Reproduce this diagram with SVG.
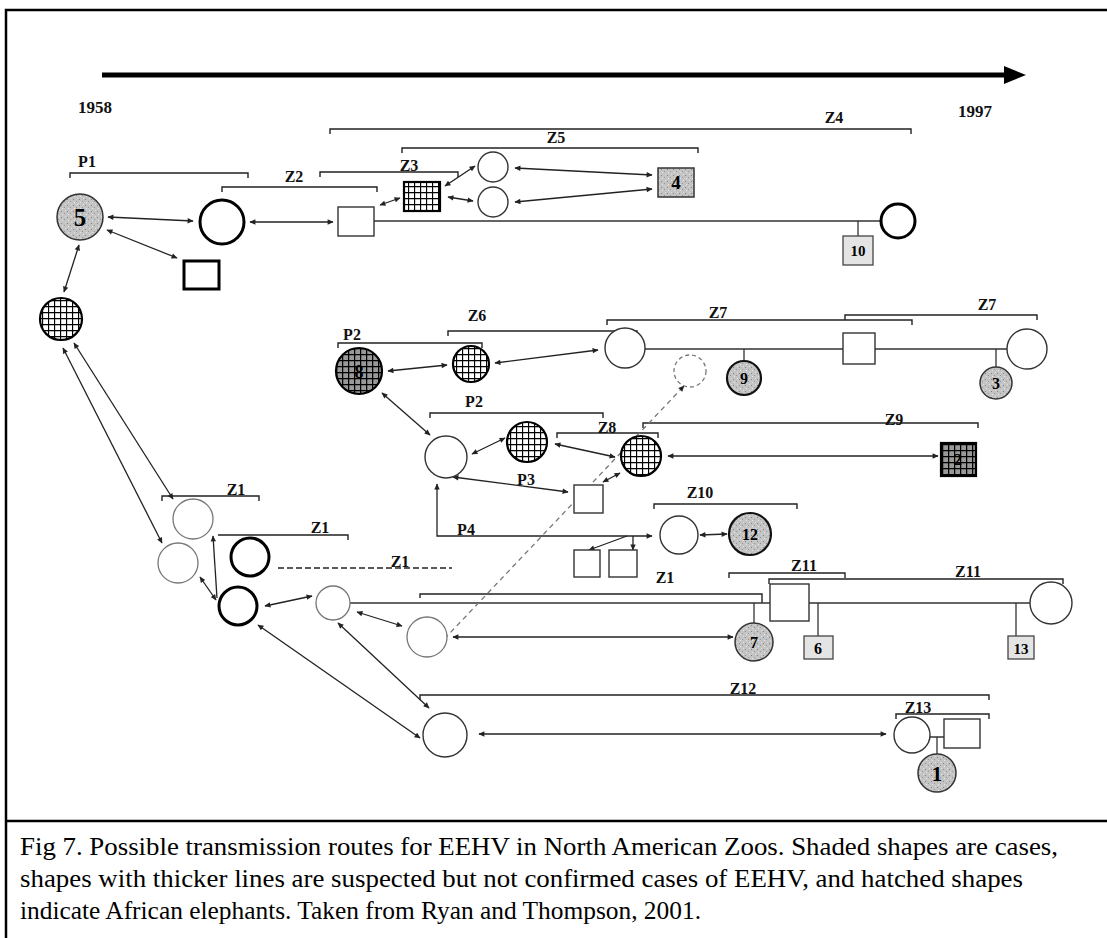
<svg xmlns="http://www.w3.org/2000/svg" width="1107" height="938" viewBox="0 0 1107 938">
<style>
.thin{fill:#fff;stroke:#333;stroke-width:1.4}
.faint{fill:#fff;stroke:#777;stroke-width:1.3}
.thick{fill:#fff;stroke:#000;stroke-width:3}
.shade{fill:url(#stip);stroke:#333;stroke-width:1.5}
.shadeT{fill:url(#stip);stroke:#111;stroke-width:2.2}
.light{fill:#e4e4e4;stroke:#444;stroke-width:1.3}
.grid{fill:url(#grid);stroke:#000;stroke-width:2.2}
.gridS{fill:url(#gridS);stroke:#000;stroke-width:2.2}
.num{font-family:"Liberation Serif",serif;font-weight:bold;fill:#000;text-anchor:middle}
.lab{font-family:"Liberation Serif",serif;font-weight:bold;font-size:16px;fill:#111;text-anchor:middle}
.yr{font-family:"Liberation Serif",serif;font-weight:bold;font-size:17px;fill:#111}
.br{fill:none;stroke:#222;stroke-width:1.4}
.ln{fill:none;stroke:#333;stroke-width:1.3}
.ar{fill:none;stroke:#222;stroke-width:1.3;marker-end:url(#ah);marker-start:url(#ah)}
.ar1{fill:none;stroke:#222;stroke-width:1.3;marker-end:url(#ah)}
.cap{font-family:"Liberation Serif",serif;font-size:25px;fill:#000}
</style>
<defs>
<marker id="ah" viewBox="0 0 10 10" refX="9" refY="5" markerWidth="7" markerHeight="6" markerUnits="userSpaceOnUse" orient="auto-start-reverse">
<path d="M0,0.5 L10,5 L0,9.5 z" fill="#222"/>
</marker>
<pattern id="stip" width="6" height="6" patternUnits="userSpaceOnUse">
<rect width="6" height="6" fill="#c4c4c4"/>
<rect x="1" y="1" width="1" height="1" fill="#858585"/>
<rect x="4" y="3" width="1" height="1" fill="#959595"/>
<rect x="2" y="4" width="1" height="1" fill="#e8e8e8"/>
<rect x="5" y="0" width="1" height="1" fill="#e0e0e0"/>
</pattern>
<pattern id="grid" width="6" height="6" patternUnits="userSpaceOnUse">
<rect width="6" height="6" fill="#fff"/>
<path d="M0 0.5H6M0.5 0V6" stroke="#000" stroke-width="1.3"/>
</pattern>
<pattern id="gridS" width="6" height="6" patternUnits="userSpaceOnUse">
<rect width="6" height="6" fill="#999"/>
<path d="M0 0.5H6M0.5 0V6" stroke="#000" stroke-width="1.5"/>
</pattern>
</defs>
<rect width="1107" height="938" fill="#fff"/>
<g id="frame" fill="none" stroke="#000" stroke-width="2.5">
<path d="M6,938 V10 H1107"/>
<path d="M6,821 H1107"/>
</g>

<g id="brackets">
<path class="br" d="M70,178 V173 H248 V178"/>
<path class="br" d="M222,192 V187 H377 V192"/>
<path class="br" d="M320,177 V172 H458 V177"/>
<path class="br" d="M330,134 V129 H911 V134"/>
<path class="br" d="M402,153 V148 H698 V153"/>
<path class="br" d="M338,348 V343 H482 V348"/>
<path class="br" d="M448,336 V331 H637 V336"/>
<path class="br" d="M607,325 V320 H912 V325"/>
<path class="br" d="M845,320 V315 H1037 V320"/>
<path class="br" d="M430,418 V413 H603 V418"/>
<path class="br" d="M557,438 V433 H658 V438"/>
<path class="br" d="M643,428 V423 H978 V428"/>
<path class="br" d="M654,509 V504 H797 V509"/>
<path class="br" d="M162,501 V496 H259 V501"/>
<path class="br" d="M218,535 H348 V540"/>
<path class="br" d="M278,568 H452" stroke="#888" stroke-dasharray="6,3"/>
<path class="br" d="M420,598 V594 H762 V603"/>
<path class="br" d="M729,578 V573 H845 V578"/>
<path class="br" d="M769,584 V579 H1063 V584"/>
<path class="br" d="M420,700 V695 H989 V700"/>
<path class="br" d="M896,719 V714 H989 V719"/>
<text class="yr" x="78" y="113">1958</text>
<text class="yr" x="958" y="117">1997</text>
<text class="lab" x="87" y="167">P1</text>
<text class="lab" x="294" y="182">Z2</text>
<text class="lab" x="409" y="171">Z3</text>
<text class="lab" x="834" y="123">Z4</text>
<text class="lab" x="556" y="143">Z5</text>
<text class="lab" x="352" y="340">P2</text>
<text class="lab" x="477" y="321">Z6</text>
<text class="lab" x="718" y="318">Z7</text>
<text class="lab" x="987" y="310">Z7</text>
<text class="lab" x="474" y="407">P2</text>
<text class="lab" x="607" y="433">Z8</text>
<text class="lab" x="894" y="425">Z9</text>
<text class="lab" x="526" y="485">P3</text>
<text class="lab" x="700" y="498">Z10</text>
<text class="lab" x="466" y="535">P4</text>
<text class="lab" x="236" y="495">Z1</text>
<text class="lab" x="320" y="533">Z1</text>
<text class="lab" x="400" y="567">Z1</text>
<text class="lab" x="665" y="583">Z1</text>
<text class="lab" x="804" y="571">Z11</text>
<text class="lab" x="968" y="577">Z11</text>
<text class="lab" x="743" y="694">Z12</text>
<text class="lab" x="918" y="713">Z13</text>
</g>

<g id="connectors">
<line x1="102" y1="75" x2="1008" y2="75" stroke="#000" stroke-width="5"/>
<polygon points="1004,66 1026,75 1004,84" fill="#000"/>
<path class="ln" d="M374,221 H881 M858,221 V236"/>
<path class="ln" d="M645,349 H843 M875,349 H1007 M744,349 V361 M996,349 V367"/>
<path class="ln" d="M350,603 H770 M809,603 H1030 M754,603 V623 M818,603 V636 M1016,603 V636"/>
<path class="ln" d="M930,737 H944 M937,737 V754"/>
<line class="ar" x1="108" y1="217" x2="193" y2="221"/>
<line class="ar" x1="250" y1="222" x2="333" y2="222"/>
<line class="ar" x1="107" y1="230" x2="177" y2="258"/>
<line class="ar" x1="79" y1="245" x2="64" y2="292"/>
<line class="ar" x1="380" y1="205" x2="400" y2="198"/>
<line class="ar" x1="445" y1="186" x2="475" y2="166"/>
<line class="ar" x1="448" y1="197" x2="473" y2="201"/>
<line class="ar" x1="515" y1="168" x2="652" y2="175"/>
<line class="ar" x1="515" y1="202" x2="652" y2="189"/>
<line class="ar" x1="74" y1="343" x2="173" y2="499"/>
<line class="ar" x1="63" y1="348" x2="162" y2="543"/>
<line class="ar" x1="200" y1="577" x2="216" y2="600"/>
<line class="ar1" x1="217" y1="598" x2="213" y2="536"/>
<line class="ar" x1="265" y1="606" x2="312" y2="596"/>
<line class="ar" x1="357" y1="612" x2="402" y2="626" stroke-width="1.8"/>
<line class="ar" x1="453" y1="637" x2="733" y2="637"/>
<line class="ar" x1="258" y1="625" x2="420" y2="738" stroke-width="1.6"/>
<line class="ar" x1="338" y1="623" x2="429" y2="708" stroke-width="1.6"/>
<line class="ar" x1="479" y1="734" x2="886" y2="734"/>
<line class="ar" x1="388" y1="371" x2="447" y2="365"/>
<line class="ar" x1="495" y1="363" x2="598" y2="350" stroke-width="1.8"/>
<line class="ar" x1="382" y1="393" x2="430" y2="435" stroke-width="1.6"/>
<line class="ar" x1="472" y1="454" x2="505" y2="438"/>
<line class="ar" x1="555" y1="444" x2="615" y2="457" stroke-width="1.6"/>
<line class="ar" x1="603" y1="482" x2="620" y2="473"/>
<line class="ar" x1="453" y1="477" x2="568" y2="492"/>
<line class="ar" x1="668" y1="456" x2="938" y2="456"/>
<line class="ar" x1="700" y1="535" x2="727" y2="534"/>
<polyline class="ar" points="437,484 437,536 652,536"/>
<line class="ar1" x1="627" y1="536" x2="589" y2="550"/>
<line class="ar1" x1="633" y1="536" x2="633" y2="550"/>
<line x1="432" y1="652" x2="684" y2="386" stroke="#777" stroke-width="1.3" stroke-dasharray="5,4" marker-end="url(#ah)"/>
</g>

<g id="n5"><circle class="shade" cx="80" cy="217" r="23"/><text class="num" x="80" y="226" font-size="25">5</text></g>
<g id="p1-thick-circle"><circle class="thick" cx="222" cy="222" r="22"/></g>
<g id="p1-thick-rect"><rect class="thick" x="184" y="261" width="35" height="28"/></g>
<g id="z2-square"><rect class="thin" x="338" y="207" width="36" height="29" stroke="#777"/></g>
<g id="z3-hatched"><rect class="grid" x="404" y="182" width="36" height="29" stroke-width="2.5"/></g>
<g id="z5-circle-a"><circle class="thin" cx="493" cy="167" r="15"/></g>
<g id="z5-circle-b"><circle class="thin" cx="493" cy="202" r="15"/></g>
<g id="n4"><rect class="shade" x="658" y="168" width="36" height="29"/><text class="num" x="676" y="189" font-size="19">4</text></g>
<g id="n10"><rect class="light" x="843" y="236" width="30" height="29" fill="#d6d6d6"/><text class="num" x="858" y="256" font-size="15">10</text></g>
<g id="z4-circle"><circle class="thick" cx="898" cy="221" r="17"/></g>
<g id="african-1"><circle class="grid" cx="61" cy="319" r="21" stroke-width="2.5"/></g>

<g id="n8"><circle class="gridS" cx="359" cy="371" r="23"/><text class="num" x="359" y="378" font-size="18">8</text></g>
<g id="z6-hatched"><circle class="grid" cx="471" cy="364" r="18" stroke-width="1.8"/></g>
<g id="z7-circle-a"><circle class="thin" cx="625" cy="348" r="20"/></g>
<g id="dashed-circle"><circle cx="690" cy="371" r="16" fill="none" stroke="#777" stroke-width="1.3" stroke-dasharray="4,3"/></g>
<g id="n9"><circle class="shadeT" cx="744" cy="378" r="17"/><text class="num" x="744" y="384" font-size="16">9</text></g>
<g id="z7-square"><rect class="thin" x="843" y="333" width="32" height="31"/></g>
<g id="z7-circle-b"><circle class="thin" cx="1027" cy="349" r="20"/></g>
<g id="n3"><circle class="shade" cx="996" cy="383" r="16"/><text class="num" x="996" y="389" font-size="16">3</text></g>
<g id="p2-circle"><circle class="thin" cx="446" cy="457" r="21"/></g>
<g id="p2-hatched"><circle class="grid" cx="527" cy="442" r="20" stroke-width="1.8"/></g>
<g id="z8-hatched"><circle class="grid" cx="641" cy="456" r="20" stroke-width="1.8"/></g>
<g id="n2"><rect class="gridS" x="941" y="443" width="35" height="33" stroke-width="1.2"/><text class="num" x="958" y="465" font-size="16">2</text></g>
<g id="p3-square"><rect class="thin" x="574" y="485" width="29" height="28"/></g>
<g id="p4-square-a"><rect class="thin" x="574" y="550" width="26" height="27"/></g>
<g id="p4-square-b"><rect class="thin" x="609" y="550" width="28" height="27"/></g>
<g id="z10-circle"><circle class="thin" cx="679" cy="535" r="19"/></g>
<g id="n12"><circle class="shadeT" cx="750" cy="534" r="21"/><text class="num" x="750" y="540" font-size="16">12</text></g>

<g id="z1-circle-a"><circle class="faint" cx="193" cy="519" r="20"/></g>
<g id="z1-circle-b"><circle class="faint" cx="178" cy="563" r="20"/></g>
<g id="z1-thick-c"><circle class="thick" cx="250" cy="557" r="19"/></g>
<g id="z1-thick-d"><circle class="thick" cx="238" cy="606" r="19"/></g>
<g id="z1-circle-e"><circle class="faint" cx="333" cy="603" r="17"/></g>
<g id="z1-circle-f"><circle class="faint" cx="427" cy="637" r="20"/></g>
<g id="n7"><circle class="shade" cx="754" cy="642" r="19"/><text class="num" x="754" y="648" font-size="16">7</text></g>
<g id="z11-square"><rect class="thin" x="770" y="584" width="39" height="37"/></g>
<g id="n6"><rect class="light" x="804" y="636" width="29" height="23"/><text class="num" x="818" y="654" font-size="16">6</text></g>
<g id="z11-circle"><circle class="thin" cx="1051" cy="603" r="21"/></g>
<g id="n13"><rect class="light" x="1008" y="636" width="26" height="23"/><text class="num" x="1021" y="654" font-size="15">13</text></g>
<g id="z12-circle"><circle class="thin" cx="445" cy="735" r="22"/></g>
<g id="z13-circle"><circle class="thin" cx="912" cy="735" r="18"/></g>
<g id="z13-square"><rect class="thin" x="944" y="719" width="36" height="29"/></g>
<g id="n1"><circle class="shade" cx="937" cy="773" r="19"/><text class="num" x="937" y="781" font-size="21">1</text></g>

<g id="caption">
<text class="cap" x="20" y="855" textLength="1038" lengthAdjust="spacingAndGlyphs">Fig 7. Possible transmission routes for EEHV in North American Zoos. Shaded shapes are cases,</text>
<text class="cap" x="20" y="887" textLength="1003" lengthAdjust="spacingAndGlyphs">shapes with thicker lines are suspected but not confirmed cases of EEHV, and hatched shapes</text>
<text class="cap" x="20" y="919" textLength="681" lengthAdjust="spacingAndGlyphs">indicate African elephants. Taken from Ryan and Thompson, 2001.</text>
</g>
</svg>
